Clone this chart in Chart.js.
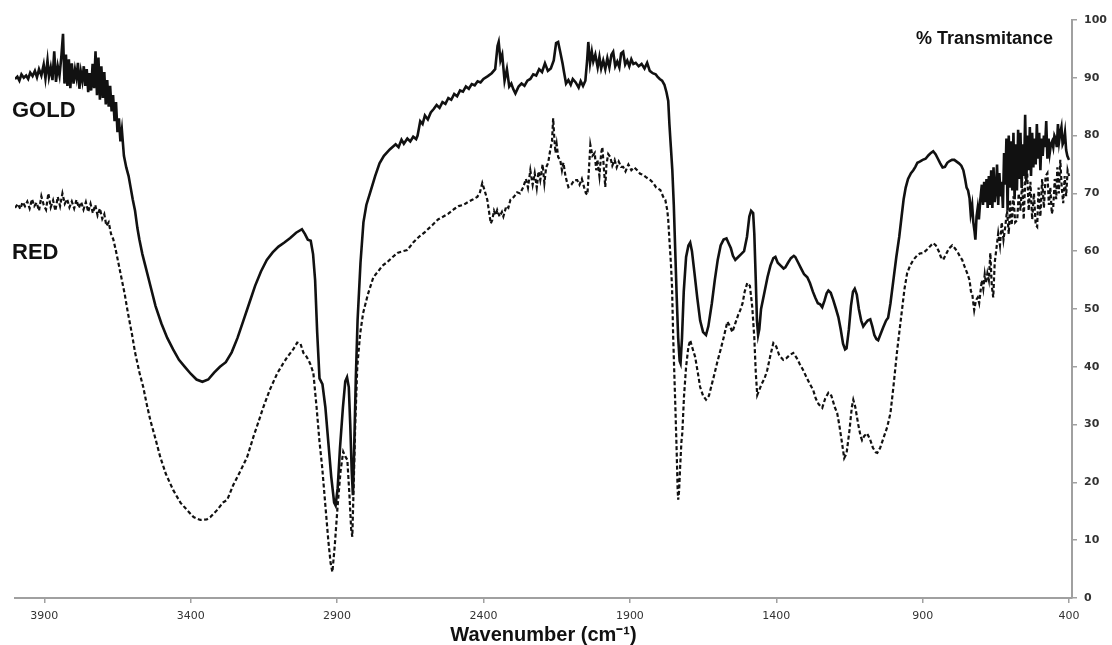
<!DOCTYPE html>
<html>
<head>
<meta charset="utf-8">
<script src="https://cdn.jsdelivr.net/npm/chart.js@4.4.1/dist/chart.umd.min.js"></script>
<style>
  html, body { margin: 0; padding: 0; background: #ffffff; }
  #wrap { width: 1112px; height: 645px; position: relative; }
</style>
</head>
<body>
<div id="wrap"><canvas id="c" width="1112" height="645"></canvas></div>
<script>
// ---------- DATA ----------
const xTickValues = [3900, 3400, 2900, 2400, 1900, 1400, 900, 400];
const yTickValues = [0, 10, 20, 30, 40, 50, 60, 70, 80, 90, 100];
const seriesNames = ["GOLD", "RED"];

const goldWn = [4000,3992,3985,3978,3970,3962,3955,3948,3940,3932,3925,3918,3910,3902,3896,3889,3884,3878,3872,3866,3860,3854,3848,3842,3836,3831,3826,3821,3816,3811,3806,3800,3795,3790,3785,3780,3775,3770,3765,3760,3755,3750,3745,3740,3735,3730,3725,3720,3715,3710,3705,3700,3695,3690,3685,3680,3675,3670,3665,3660,3655,3650,3645,3640,3635,3628,3620,3612,3605,3598,3590,3582,3575,3565,3555,3540,3520,3500,3480,3460,3440,3420,3400,3380,3360,3340,3320,3300,3280,3260,3240,3220,3200,3180,3160,3140,3120,3100,3080,3060,3040,3020,3010,3000,2990,2982,2975,2968,2960,2950,2940,2930,2920,2910,2905,2898,2890,2880,2872,2866,2860,2855,2850,2846,2842,2836,2830,2820,2810,2800,2785,2770,2755,2740,2720,2700,2690,2680,2672,2660,2650,2640,2630,2625,2616,2608,2600,2590,2580,2570,2560,2550,2540,2530,2520,2510,2500,2490,2480,2470,2460,2450,2440,2430,2420,2410,2400,2385,2372,2360,2352,2348,2342,2336,2328,2320,2312,2305,2298,2291,2280,2270,2260,2250,2240,2230,2220,2210,2200,2190,2180,2170,2160,2152,2145,2138,2130,2125,2118,2110,2102,2095,2085,2075,2068,2060,2052,2046,2042,2036,2030,2025,2018,2010,2004,1998,1991,1984,1977,1970,1963,1957,1950,1943,1936,1930,1923,1916,1909,1902,1895,1888,1880,1870,1860,1850,1841,1832,1822,1812,1806,1798,1790,1782,1775,1769,1765,1760,1755,1750,1745,1740,1735,1730,1727,1722,1716,1708,1700,1694,1688,1680,1670,1660,1650,1640,1632,1620,1610,1600,1590,1580,1570,1562,1555,1548,1540,1530,1520,1510,1500,1492,1486,1479,1475,1470,1466,1462,1458,1452,1448,1440,1430,1420,1410,1403,1395,1385,1375,1369,1360,1350,1340,1335,1325,1315,1305,1294,1285,1275,1267,1258,1250,1243,1235,1228,1222,1214,1205,1196,1188,1180,1172,1165,1160,1152,1145,1138,1132,1125,1118,1110,1103,1096,1088,1079,1072,1065,1058,1052,1045,1035,1025,1018,1010,1000,990,980,972,965,958,950,940,932,925,918,910,900,890,880,872,864,856,848,840,832,824,816,808,800,792,784,776,768,761,755,750,745,740,736,731,727,723,720,716,712,708,703,698,694,690,686,682,678,674,670,666,662,658,654,650,646,642,638,634,630,626,622,618,614,610,606,602,598,594,590,586,582,578,574,570,566,562,558,554,550,546,542,538,534,530,526,522,518,514,510,506,502,498,494,490,486,482,478,474,470,466,462,458,454,450,446,442,438,434,430,426,422,418,414,410,406,402,400];
const goldT = [89.8,90.2,89.5,90.6,90.0,90.4,89.8,90.9,90.3,91.2,90.1,91.5,90.4,92.3,89.9,93.0,90.2,91.8,89.6,94.6,89.3,92.0,90.4,93.5,97.6,89.0,94.0,88.6,93.2,88.2,92.5,89.0,91.4,90.0,92.6,88.1,91.0,89.5,92.0,88.6,91.5,87.5,90.8,87.8,92.4,88.2,94.6,87.0,93.5,86.2,92.0,86.5,91.0,85.4,89.6,85.0,88.6,84.2,87.0,82.5,85.8,80.6,83.0,79.0,81.0,76.5,74.5,73.0,71.0,69.0,67.0,64.0,62.0,59.5,57.5,54.5,50.5,47.5,45.0,43.0,41.2,40.0,38.8,37.8,37.4,37.8,39.0,40.0,40.8,42.5,45.0,48.0,51.0,54.0,56.5,58.5,59.8,60.8,61.5,62.3,63.2,63.8,63.0,62.0,61.8,59.5,55.0,46.0,38.0,37.0,33.0,27.0,21.0,16.5,16.0,19.0,26.0,33.0,37.5,38.2,36.5,30.0,22.0,17.8,25.0,38.0,48.0,58.0,65.0,68.0,70.5,73.0,75.2,76.5,77.6,78.5,78.0,79.3,78.6,79.5,79.0,79.8,79.4,80.0,82.5,82.0,83.5,82.8,84.0,84.6,85.3,84.8,85.8,85.5,86.5,86.2,87.2,86.8,87.8,87.6,88.5,88.1,88.9,88.7,89.4,89.2,89.8,90.3,90.8,91.5,95.5,96.2,93.0,94.0,89.5,91.5,88.5,89.0,88.0,87.3,88.5,89.0,88.6,89.5,89.8,90.6,90.4,91.5,91.0,92.5,91.2,91.6,93.0,96.0,96.2,94.5,92.5,91.0,89.0,89.6,88.8,89.8,89.2,88.3,89.4,88.6,89.5,93.0,96.2,92.5,94.5,92.8,94.0,91.8,93.6,91.6,93.0,91.5,93.4,91.8,94.0,94.5,92.0,92.8,91.8,94.2,94.5,92.3,93.0,92.0,93.2,92.4,92.6,92.0,92.4,91.6,92.6,91.2,90.8,90.6,90.2,89.8,89.5,88.8,87.5,86.0,82.0,78.0,74.0,68.0,60.0,52.0,45.0,41.0,40.6,45.0,53.0,59.0,61.0,61.5,60.0,56.5,52.0,48.0,46.0,45.5,47.0,51.0,55.0,58.5,61.0,62.0,62.2,61.3,60.5,59.2,58.5,59.0,59.5,60.0,62.5,66.0,67.0,66.6,63.0,55.0,48.0,45.5,46.5,50.0,51.0,53.0,55.5,57.5,58.8,59.0,58.0,57.5,57.0,57.2,58.0,58.8,59.2,59.0,58.0,57.0,56.0,55.5,54.5,53.0,52.0,51.0,50.8,50.3,51.5,52.7,53.2,52.8,51.5,50.0,48.6,46.5,44.0,43.0,43.2,46.5,50.5,53.0,53.5,52.5,50.0,48.0,47.0,47.5,48.0,48.2,47.0,45.5,44.8,44.6,45.5,46.8,48.0,48.5,51.0,55.0,59.0,62.5,66.0,69.0,71.0,72.5,73.5,74.0,74.6,75.3,75.5,75.8,76.0,76.6,77.0,77.3,76.8,76.0,75.2,74.5,74.6,75.3,75.6,75.8,75.8,75.5,75.2,74.8,74.0,72.5,71.0,70.5,69.2,66.5,68.0,65.0,63.5,62.0,66.0,67.5,65.5,69.0,71.5,68.0,72.0,68.5,72.5,67.5,73.0,68.0,74.0,67.5,74.5,68.5,70.5,75.0,68.0,73.5,69.5,72.0,67.5,77.0,71.5,79.5,67.0,80.0,71.0,79.0,70.5,80.5,69.0,78.5,70.5,81.0,72.5,80.5,71.0,78.5,73.0,83.6,72.0,80.0,74.0,81.5,73.0,80.5,74.5,79.5,75.0,82.0,76.0,80.5,74.0,79.5,76.5,80.0,78.0,82.5,76.0,79.5,77.0,78.5,79.0,78.0,80.0,79.5,78.0,82.0,79.0,80.5,81.5,78.5,79.0,80.5,77.5,76.5,76.0,75.8];

const redWn = [4000,3990,3982,3974,3966,3958,3950,3942,3934,3926,3918,3910,3902,3894,3886,3878,3870,3862,3854,3846,3838,3830,3822,3814,3806,3798,3790,3782,3774,3766,3758,3750,3742,3734,3726,3718,3710,3702,3695,3688,3680,3672,3664,3655,3645,3635,3625,3615,3600,3590,3575,3562,3550,3538,3520,3504,3485,3460,3435,3412,3390,3367,3345,3333,3310,3290,3275,3255,3230,3207,3185,3165,3152,3130,3104,3085,3070,3050,3036,3025,3015,3005,2998,2990,2981,2970,2960,2951,2940,2930,2922,2916,2908,2898,2888,2879,2872,2865,2858,2852,2848,2843,2838,2831,2821,2811,2795,2776,2760,2745,2729,2710,2694,2675,2660,2640,2620,2600,2592,2575,2555,2537,2520,2500,2485,2469,2450,2435,2421,2412,2404,2396,2387,2380,2375,2370,2364,2358,2353,2345,2337,2332,2322,2315,2308,2296,2285,2275,2264,2255,2248,2240,2232,2225,2218,2212,2206,2198,2192,2186,2179,2172,2166,2162,2158,2154,2150,2145,2138,2132,2127,2120,2114,2110,2100,2090,2080,2072,2064,2056,2050,2045,2040,2035,2028,2020,2015,2011,2004,1998,1994,1989,1984,1980,1974,1967,1960,1952,1945,1938,1930,1923,1915,1905,1895,1885,1875,1865,1855,1845,1830,1820,1810,1796,1786,1779,1772,1769,1765,1760,1756,1752,1748,1744,1740,1737,1735,1732,1728,1724,1721,1715,1708,1700,1694,1688,1677,1668,1660,1650,1640,1630,1620,1610,1602,1590,1580,1567,1558,1550,1540,1530,1523,1515,1508,1499,1490,1482,1475,1470,1465,1458,1450,1440,1431,1420,1410,1400,1390,1376,1365,1355,1342,1330,1320,1308,1295,1285,1274,1265,1255,1243,1233,1222,1212,1200,1192,1185,1176,1168,1160,1150,1142,1137,1130,1120,1112,1107,1100,1090,1080,1070,1060,1055,1045,1035,1021,1010,1000,987,975,962,953,943,932,920,910,898,885,872,864,855,845,838,830,820,810,799,790,780,772,765,758,748,740,735,731,727,724,718,712,707,703,698,693,688,684,679,674,669,664,659,654,648,642,636,630,624,618,612,606,601,596,590,584,577,572,566,560,555,549,543,538,532,526,520,514,509,504,498,492,486,480,474,469,464,459,454,449,444,440,435,430,425,420,415,410,405,400];
const redT = [67.5,68.2,67.3,68.5,67.8,68.6,67.4,69.0,67.8,68.4,67.0,69.5,68.0,67.2,70.0,67.6,68.8,67.0,69.4,67.8,70.0,68.2,69.0,67.6,68.6,67.4,68.9,67.5,68.5,67.2,68.5,66.8,68.2,66.6,68.0,66.2,67.4,65.6,66.4,64.4,65.0,63.0,62.0,60.0,57.5,55.0,52.5,49.5,45.5,42.5,39.0,36.5,33.5,30.8,27.5,24.4,21.5,18.7,16.5,15.2,14.0,13.5,13.6,14.0,15.2,16.5,17.0,19.5,22.0,24.4,28.0,31.0,33.0,36.0,38.9,40.5,41.7,43.0,44.2,44.0,42.4,41.8,41.2,40.3,38.9,33.0,27.0,22.7,16.0,10.0,6.0,4.5,9.0,16.0,22.0,25.3,24.5,23.9,18.0,12.0,10.6,20.0,30.0,40.0,45.8,49.3,52.5,55.5,56.5,57.5,58.1,59.0,59.7,60.0,60.2,61.5,62.5,63.3,63.7,64.5,65.5,66.0,66.5,67.3,67.8,68.0,68.6,69.0,69.4,70.2,71.8,70.5,68.9,66.5,64.8,65.4,67.0,66.2,67.1,66.0,66.8,66.0,67.8,67.5,68.9,69.4,70.2,70.0,71.1,72.5,71.0,74.0,71.5,73.5,71.0,73.8,72.3,75.0,71.8,74.5,75.3,77.5,79.0,83.0,79.5,77.0,78.5,76.3,75.8,74.0,75.3,73.0,71.8,71.1,71.5,72.3,72.3,71.5,72.5,71.0,70.0,69.8,74.0,78.4,76.5,77.0,74.0,75.8,73.0,77.0,78.0,74.5,71.1,75.0,76.8,76.3,74.8,75.8,74.5,75.5,74.6,74.6,73.8,75.0,74.0,74.5,74.0,73.4,73.2,72.8,72.3,71.8,71.0,70.6,69.4,68.9,67.0,65.4,62.0,58.0,53.8,45.0,38.5,32.0,25.0,19.0,17.0,18.5,23.0,27.0,28.5,35.0,40.0,43.5,44.6,43.5,41.7,39.0,36.5,35.0,34.3,35.0,37.0,39.0,40.7,43.0,45.0,47.8,47.0,46.0,47.5,49.0,49.8,51.0,53.0,54.5,54.0,50.3,45.0,39.0,35.1,36.0,37.0,38.0,39.4,42.0,44.1,43.5,42.0,41.2,41.5,42.0,42.4,41.5,40.5,39.4,38.0,37.0,36.0,34.5,33.5,32.9,34.5,35.5,35.0,33.0,32.0,30.0,27.0,24.2,25.0,29.0,33.0,34.3,33.0,30.0,28.0,27.3,28.0,28.5,27.5,26.0,25.2,25.1,26.0,27.5,29.6,32.0,36.5,42.9,48.0,53.5,56.2,57.5,58.5,59.2,59.6,59.7,60.3,61.0,61.4,61.0,60.0,59.0,58.5,59.5,60.5,61.0,60.5,59.8,59.0,58.5,57.5,56.2,55.0,53.0,52.8,51.0,49.8,51.5,52.0,51.0,52.8,55.0,53.5,56.0,54.5,56.2,55.0,59.7,54.0,52.0,58.0,60.5,63.1,61.0,65.0,62.0,64.2,67.0,63.0,68.9,64.5,69.5,65.0,65.4,70.0,67.0,72.0,65.5,73.0,73.5,67.0,72.0,65.5,70.0,64.5,64.2,71.0,66.0,72.5,67.5,73.0,73.5,68.0,71.0,66.5,67.6,72.5,69.0,74.5,70.0,75.8,71.0,68.3,73.0,69.5,74.0,73.0];

// ---------- CHART ----------
const toPoints = (xs, ys) => xs.map((x, i) => ({ x: x, y: ys[i] }));

const textPlugin = {
  id: 'annotText',
  afterDraw(chart) {
    const ctx = chart.ctx;
    ctx.save();
    ctx.fillStyle = '#111';
    ctx.textBaseline = 'alphabetic';
    ctx.font = 'bold 18px "Liberation Sans", Arial, sans-serif';
    ctx.textAlign = 'right';
    ctx.fillText('% Transmitance', 1053, 44);
    ctx.textAlign = 'left';
    ctx.font = 'bold 22px "Liberation Sans", Arial, sans-serif';
    ctx.fillText(seriesNames[0], 12, 117);
    ctx.fillText(seriesNames[1], 12, 259);
    ctx.restore();
  }
};

new Chart(document.getElementById('c'), {
  type: 'scatter',
  data: {
    datasets: [
      {
        label: seriesNames[0],
        data: toPoints(goldWn, goldT),
        showLine: true,
        borderColor: '#111',
        borderWidth: 2.6,
        pointRadius: 0,
        tension: 0
      },
      {
        label: seriesNames[1],
        data: toPoints(redWn, redT),
        showLine: true,
        borderColor: '#111',
        borderWidth: 2.2,
        borderDash: [4, 2.5],
        pointRadius: 0,
        tension: 0
      }
    ]
  },
  options: {
    responsive: false,
    animation: false,
    layout: { padding: { left: 15, top: 20, right: 0, bottom: 0 } },
    plugins: { legend: { display: false }, tooltip: { enabled: false } },
    scales: {
      x: {
        type: 'linear',
        reverse: true,
        min: 390,
        max: 4000,
        afterBuildTicks(scale) { scale.ticks = xTickValues.map(v => ({ value: v })); },
        afterFit(scale) { scale.height = 47; },
        grid: { drawOnChartArea: false, drawTicks: true, tickLength: 5, color: '#a0a0a0', lineWidth: 1.5 },
        border: { color: '#a0a0a0', width: 2 },
        ticks: {
          padding: 7,
          color: '#333',
          font: { family: '"DejaVu Sans", Verdana, sans-serif', size: 11 },
          maxRotation: 0,
          autoSkip: false,
          callback: (v) => String(v)
        },
        title: {
          display: true,
          text: 'Wavenumber (cm\u207B\u00B9)',
          color: '#111',
          font: { family: '"Liberation Sans", Arial, sans-serif', size: 20, weight: 'bold', lineHeight: 1 },
          padding: { top: 0, bottom: 0 }
        }
      },
      y: {
        position: 'right',
        min: 0,
        max: 100,
        afterBuildTicks(scale) { scale.ticks = yTickValues.map(v => ({ value: v })); },
        afterFit(scale) { scale.width = 40; },
        grid: { drawOnChartArea: false, drawTicks: true, tickLength: 5, color: '#a0a0a0', lineWidth: 1.5 },
        border: { color: '#a0a0a0', width: 2 },
        ticks: {
          padding: 7,
          color: '#333',
          font: { family: '"DejaVu Sans", Verdana, sans-serif', size: 11, weight: 'bold' },
          callback: (v) => String(v)
        }
      }
    }
  },
  plugins: [textPlugin]
});
</script>
</body>
</html>
